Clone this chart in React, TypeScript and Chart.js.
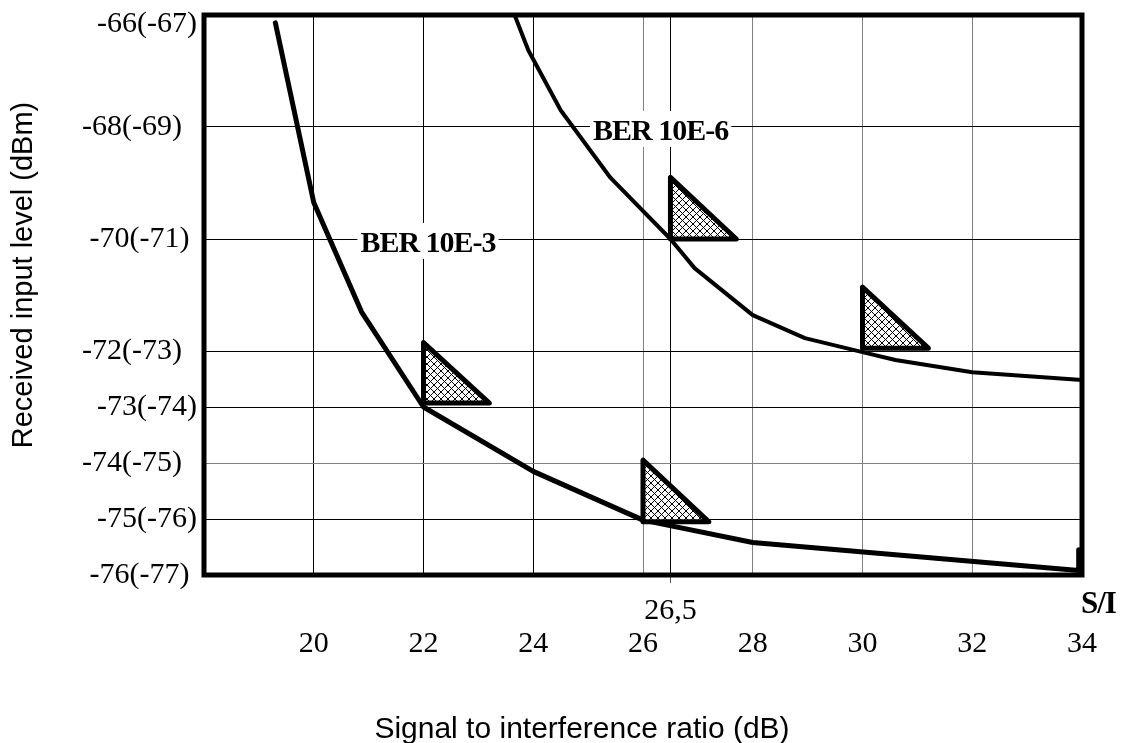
import React, { useEffect, useRef } from 'react';
import { Chart, registerables } from 'chart.js';

Chart.register(...registerables);

// ---- axis ticks ----
const xTickValues = [20, 22, 24, 26, 26.5, 28, 30, 32, 34];
const xTickLabels = ['20', '22', '24', '26', '26,5', '28', '30', '32', '34'];
const yTickValues = [-76, -75, -74, -73, -72, -70, -68, -66];
const yTickLabels = ['-76(-77) ', '-75(-76)', '-74(-75)  ', '-73(-74)', '-72(-73)  ', '-70(-71) ', '-68(-69)  ', '-66(-67)'];

// ---- curves ----
const ber3X = [19.3, 20, 20.87, 22, 24, 26, 28, 33.94, 33.94];
const ber3Y = [-66.14, -69.35, -71.3, -73, -74.15, -75.02, -75.42, -75.92, -75.55];
const ber6X = [23.66, 23.91, 24.5, 25.41, 26.5, 26.94, 28, 28.95, 30, 30.6, 32, 34];
const ber6Y = [-66, -66.63, -67.7, -68.91, -70, -70.52, -71.36, -71.77, -72.02, -72.16, -72.38, -72.52];

// ---- hatched marker triangles ----
const triLeftX = [22, 26, 26.5, 30];
const triRightX = [23.2, 27.2, 27.7, 31.2];
const triTopY = [-71.85, -73.95, -68.9, -70.86];
const triBottomY = [-72.93, -75.05, -70.0, -71.95];

// ---- curve labels ----
const berLabels = ['BER 10E-6', 'BER 10E-3'];
const berLabelX = [25.09, 20.85];
const berLabelY = [-68.07, -70.07];

const xTitle = 'Signal to interference ratio (dB)';
const yTitle = 'Received input level (dBm)';
const xUnit = 'S/I';

function makeHatch(ctx: CanvasRenderingContext2D) {
  const s = 7;
  const c = document.createElement('canvas');
  c.width = s;
  c.height = s;
  const g = c.getContext('2d')!;
  g.fillStyle = '#ffffff';
  g.fillRect(0, 0, s, s);
  g.fillStyle = '#000000';
  for (let i = 0; i < s; i++) {
    g.fillRect(i, i, 1, 1);
    g.fillRect(s - 1 - i, i, 1, 1);
  }
  return ctx.createPattern(c, 'repeat')!;
}

const annotationPlugin = {
  id: 'annotations',
  beforeDatasetsDraw(chart: any) {
    const { ctx, scales } = chart;
    const x = scales.x;
    const y = scales.y;
    ctx.save();
    ctx.font = 'bold 30px "Liberation Serif"';
    try { (ctx as any).letterSpacing = '-1px'; } catch (e) {}
    ctx.textBaseline = 'middle';
    ctx.textAlign = 'left';
    berLabels.forEach((t, i) => {
      const px = x.getPixelForValue(berLabelX[i]);
      const py = y.getPixelForValue(berLabelY[i]);
      const w = ctx.measureText(t).width;
      ctx.fillStyle = '#ffffff';
      ctx.fillRect(px - 3, py - 20, w + 6, 36);
      ctx.fillStyle = '#000000';
      ctx.fillText(t, px, py + 1);
    });
    ctx.restore();
  },
  afterDatasetsDraw(chart: any) {
    const { ctx, chartArea } = chart;
    ctx.save();
    ctx.strokeStyle = '#000000';
    ctx.lineWidth = 5;
    ctx.strokeRect(chartArea.left, chartArea.top, chartArea.right - chartArea.left, chartArea.bottom - chartArea.top);
    ctx.restore();
  },
  afterDraw(chart: any) {
    const { ctx, chartArea } = chart;
    ctx.save();
    ctx.fillStyle = '#000000';
    // x title
    ctx.font = '30px "Liberation Sans"';
    ctx.textAlign = 'center';
    ctx.textBaseline = 'alphabetic';
    ctx.fillText(xTitle, 582, chartArea.bottom + 163);
    // y title
    ctx.save();
    ctx.font = '29px "Liberation Sans"';
    ctx.translate(32, 275);
    ctx.rotate(-Math.PI / 2);
    ctx.textAlign = 'center';
    ctx.textBaseline = 'alphabetic';
    ctx.fillText(yTitle, 0, 0);
    ctx.restore();
    // S/I
    ctx.font = 'bold 31px "Liberation Serif"';
    try { (ctx as any).letterSpacing = '-1px'; } catch (e) {}
    ctx.textAlign = 'left';
    ctx.textBaseline = 'alphabetic';
    ctx.fillText(xUnit, chartArea.right - 1, chartArea.bottom + 38);
    ctx.restore();
  },
};

export default function App() {
  const ref = useRef<HTMLCanvasElement>(null);

  useEffect(() => {
    document.body.style.margin = '0';
    const canvas = ref.current!;
    const ctx = canvas.getContext('2d')!;
    const hatch = makeHatch(ctx);

    const toPts = (xs: number[], ys: number[]) => xs.map((v, i) => ({ x: v, y: ys[i] }));

    const triStrokes = triLeftX.map((lx, i) => ({
      data: [
        { x: lx, y: triTopY[i] },
        { x: lx, y: triBottomY[i] },
        { x: triRightX[i], y: triBottomY[i] },
        { x: lx, y: triTopY[i] },
      ],
      borderColor: '#000000',
      borderWidth: 5,
      borderJoinStyle: 'round',
      borderCapStyle: 'round',
      pointRadius: 0,
      fill: false,
      tension: 0,
    }));

    const triFills = triLeftX.map((lx, i) => ({
      data: [
        { x: lx, y: triTopY[i] },
        { x: triRightX[i], y: triBottomY[i] },
      ],
      borderColor: 'rgba(0,0,0,0)',
      borderWidth: 1,
      backgroundColor: hatch,
      pointRadius: 0,
      fill: { value: triBottomY[i] },
      tension: 0,
    }));

    const curve = (xs: number[], ys: number[], w: number) => ({
      data: toPts(xs, ys),
      borderColor: '#000000',
      borderWidth: w,
      borderJoinStyle: 'round',
      borderCapStyle: 'round',
      pointRadius: 0,
      fill: false,
      tension: 0,
    });

    const chart = new Chart(canvas, {
      type: 'line',
      data: {
        datasets: [...triStrokes, ...triFills, curve(ber6X, ber6Y, 4), curve(ber3X, ber3Y, 5)] as any,
      },
      options: {
        animation: false,
        responsive: false,
        maintainAspectRatio: false,
        devicePixelRatio: 1,
        layout: { padding: { top: 15, right: 42, bottom: 0, left: 0 } },
        plugins: {
          legend: { display: false },
          tooltip: { enabled: false },
        },
        scales: {
          x: {
            type: 'linear',
            min: 18,
            max: 34,
            afterBuildTicks: (s: any) => {
              s.ticks = xTickValues.map((v) => ({ value: v }));
            },
            afterFit: (s: any) => {
              s.height = 168;
              s.paddingLeft = 0;
              s.paddingRight = 0;
            },
            border: { display: false },
            grid: {
              drawTicks: true,
              tickLength: 8,
              tickWidth: 1,
              lineWidth: 1,
              color: (c: any) => {
                const v = c.tick ? c.tick.value : null;
                return v === 26 || v === 28 || v === 30 || v === 32 ? '#808080' : '#000000';
              },
              tickColor: (c: any) => (c.tick && c.tick.value === 26.5 ? '#555555' : 'rgba(0,0,0,0)'),
            },
            ticks: {
              autoSkip: false,
              maxRotation: 0,
              minRotation: 0,
              padding: 12,
              color: '#000000',
              font: { family: 'Liberation Serif', size: 30, lineHeight: 1.1 },
              callback: (value: any) => {
                const i = xTickValues.indexOf(Number(value));
                const t = xTickLabels[i];
                return Number(value) === 26.5 ? [t, ''] : ['', t];
              },
            },
          },
          y: {
            type: 'linear',
            min: -76,
            max: -66,
            afterBuildTicks: (s: any) => {
              s.ticks = yTickValues.map((v) => ({ value: v }));
            },
            afterFit: (s: any) => {
              s.width = 204;
              s.paddingTop = 0;
              s.paddingBottom = 0;
            },
            border: { display: false },
            grid: {
              drawTicks: false,
              lineWidth: 1,
              color: (c: any) => (c.tick && c.tick.value === -74 ? '#808080' : '#000000'),
            },
            ticks: {
              autoSkip: false,
              padding: 7,
              color: '#000000',
              font: (c: any) => ({
                family: 'Liberation Serif',
                size: 30,
                lineHeight: c.tick && c.tick.value === -66 ? '18px' : 1.2,
              }),
              callback: (value: any) => {
                const i = yTickValues.indexOf(Number(value));
                const t = yTickLabels[i];
                return Number(value) === -66 ? ['', t] : t;
              },
            },
          },
        },
      } as any,
      plugins: [annotationPlugin],
    });

    return () => chart.destroy();
  }, []);

  return <canvas ref={ref} width={1124} height={743} style={{ display: 'block', width: 1124, height: 743 }} />;
}
